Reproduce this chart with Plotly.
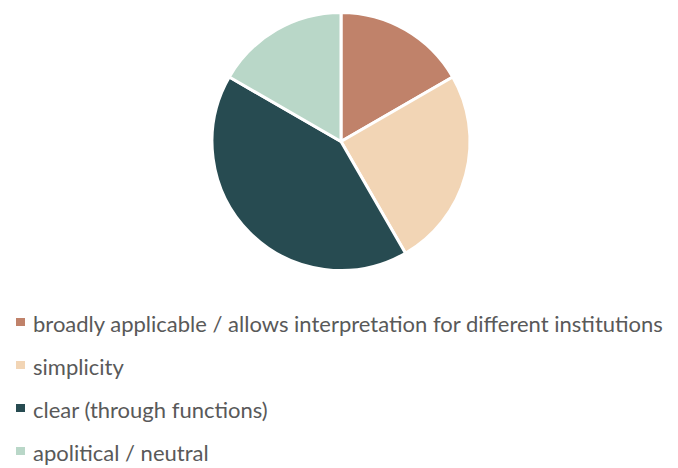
import plotly.graph_objects as go

labels = ["broadly applicable / allows interpretation for different institutions",
          "simplicity", "clear (through functions)", "apolitical / neutral"]
values = [2, 3, 5, 2]
colors = ["#C0826A", "#F2D5B5", "#274B51", "#B9D7C8"]

# page body has an 8px margin; figure coordinates are reference pixels minus 8
OFF = 8
W, H = 670, 460


def px(x):
    return (x - OFF) / W


def py(y):
    return 1 - (y - OFF) / H


fig = go.Figure(go.Pie(
    labels=labels, values=values, sort=False, direction="clockwise", rotation=0,
    marker=dict(colors=colors, line=dict(color="white", width=3)),
    textinfo="none", hoverinfo="label+percent", showlegend=False,
    domain=dict(x=[px(212), px(470)], y=[py(271), py(12)]),
))

# manual legend
y0, dy = 323, 43
for i, (lab, col) in enumerate(zip(labels, colors)):
    yc = y0 + i * dy
    fig.add_shape(type="rect", xref="paper", yref="paper",
                  x0=px(16), x1=px(25), y0=py(yc + 3), y1=py(yc - 5),
                  fillcolor=col, line=dict(width=0))
    fig.add_annotation(xref="paper", yref="paper", x=px(31), y=py(yc),
                       xanchor="left", yanchor="middle", text=lab, showarrow=False,
                       font=dict(family="Lato", size=22, color="#595959"))

fig.update_layout(width=W, height=H, margin=dict(l=0, r=0, t=0, b=0),
                  paper_bgcolor="white", plot_bgcolor="white")
fig.write_html("out.html")
